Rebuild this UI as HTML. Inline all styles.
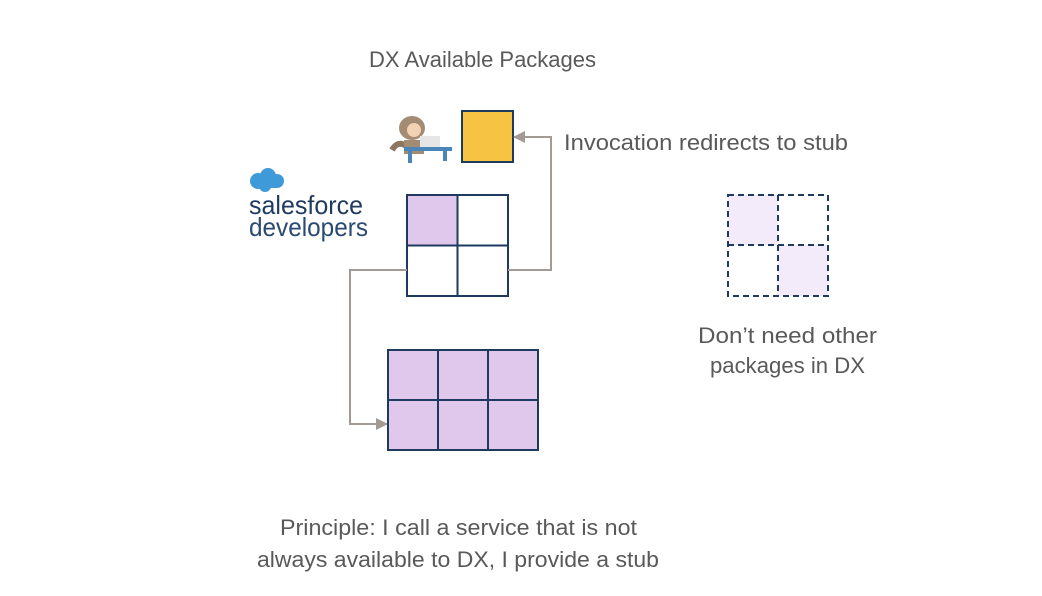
<!DOCTYPE html>
<html><head><meta charset="utf-8"><style>
html,body{margin:0;padding:0;background:#fff;}
svg{display:block}
text{font-family:"Liberation Sans",sans-serif;fill:#595959;}
</style></head><body>
<svg width="1042" height="596" viewBox="0 0 1042 596" xmlns="http://www.w3.org/2000/svg">
<defs>
<marker id="ah" markerWidth="12" markerHeight="12" refX="11" refY="6" orient="auto" markerUnits="userSpaceOnUse">
<path d="M0,0 L12,6 L0,12 z" fill="#a39a93"/></marker>
</defs>
<text x="369" y="67" font-size="22.5" textLength="227" lengthAdjust="spacingAndGlyphs">DX Available Packages</text>
<text x="564" y="150" font-size="22.5" textLength="284" lengthAdjust="spacingAndGlyphs">Invocation redirects to stub</text>
<text x="698" y="343" font-size="22.5" textLength="179" lengthAdjust="spacingAndGlyphs">Don’t need other</text>
<text x="710" y="373" font-size="22.5" textLength="155" lengthAdjust="spacingAndGlyphs">packages in DX</text>
<text x="280" y="535" font-size="22.5" textLength="357" lengthAdjust="spacingAndGlyphs">Principle: I call a service that is not</text>
<text x="257" y="567" font-size="22.5" textLength="402" lengthAdjust="spacingAndGlyphs">always available to DX, I provide a stub</text>

<g fill="#3e9ad8"><circle cx="258" cy="181" r="8"/><circle cx="268" cy="176" r="8"/><circle cx="277" cy="181" r="7"/><circle cx="265" cy="186" r="6"/><rect x="254" y="180" width="26" height="8" rx="4"/></g>
<text x="249" y="214" font-size="26" textLength="114" lengthAdjust="spacingAndGlyphs" style="fill:#1f3a5f">salesforce</text>
<text x="249" y="236" font-size="26" textLength="119" lengthAdjust="spacingAndGlyphs" style="fill:#2b4a72">developers</text>

<g>
<ellipse cx="412" cy="128" rx="13" ry="12" fill="#a48b73"/>
<circle cx="414" cy="130" r="7" fill="#f2d2b3"/>
<path d="M392 150 q6 -10 14 -4" stroke="#8c7762" stroke-width="6" fill="none"/>
<rect x="404" y="140" width="20" height="14" fill="#a48b73"/>
<rect x="420" y="136" width="20" height="11" fill="#e6e6e6"/>
<rect x="404" y="147" width="48" height="4" fill="#4a86b8"/>
<rect x="408" y="150" width="4" height="13" fill="#4a86b8"/>
<rect x="443" y="150" width="4" height="11" fill="#4a86b8"/>
</g>

<rect x="462" y="111" width="51" height="51" fill="#f6c342" stroke="#1f3a5f" stroke-width="2"/>

<rect x="407" y="195" width="50" height="50" fill="#e0c8ec"/>
<g stroke="#1f3a5f" stroke-width="2" fill="none">
<rect x="407" y="195" width="101" height="101"/>
<line x1="457.5" y1="195" x2="457.5" y2="296"/>
<line x1="407" y1="245.5" x2="508" y2="245.5"/>
</g>

<polyline points="508,270 551,270 551,137 514,137" fill="none" stroke="#a39a93" stroke-width="2" marker-end="url(#ah)"/>
<polyline points="407,270 350,270 350,424 387,424" fill="none" stroke="#a39a93" stroke-width="2" marker-end="url(#ah)"/>

<rect x="388" y="350" width="150" height="100" fill="#e0c8ec"/>
<g stroke="#1f3a5f" stroke-width="2" fill="none">
<rect x="388" y="350" width="150" height="100"/>
<line x1="438" y1="350" x2="438" y2="450"/>
<line x1="488" y1="350" x2="488" y2="450"/>
<line x1="388" y1="400" x2="538" y2="400"/>
</g>

<rect x="728" y="195" width="50" height="50" fill="#f3eafa"/>
<rect x="778" y="245" width="50" height="51" fill="#f3eafa"/>
<g stroke="#1f3a5f" stroke-width="2" fill="none" stroke-dasharray="6,4">
<rect x="728" y="195" width="100" height="101"/>
<line x1="778" y1="195" x2="778" y2="296"/>
<line x1="728" y1="245" x2="828" y2="245"/>
</g>
</svg>
</body></html>
